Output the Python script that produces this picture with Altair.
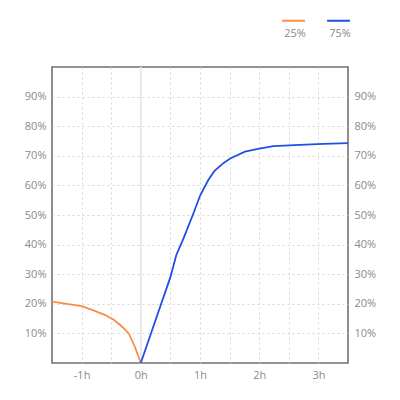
import pandas as pd
import altair as alt

# hours relative to event, share in percent
hours_25 = [-1.5, -1.25, -1.0, -0.8, -0.6, -0.45, -0.3, -0.2, -0.1, 0.0]
share_25 = [20.7, 20.0, 19.2, 17.8, 16.2, 14.5, 12.0, 9.8, 5.5, 0.0]

hours_75 = [0.0, 0.25, 0.5, 0.6, 0.72, 0.89, 1.0, 1.14, 1.25, 1.4, 1.51,
            1.76, 1.98, 2.24, 2.69, 3.08, 3.5]
share_75 = [0.0, 14.5, 29.0, 36.5, 42.0, 50.6, 56.5, 61.8, 65.0, 67.6, 69.1,
            71.4, 72.3, 73.3, 73.7, 74.0, 74.3]

series = ['25%', '75%']
colors = ['#fb8c47', '#1f4fe6']

x_ticks = [-1, -0.5, 0, 0.5, 1, 1.5, 2, 2.5, 3]
y_ticks = [10, 20, 30, 40, 50, 60, 70, 80, 90]

df = pd.concat([
    pd.DataFrame({'h': hours_25, 'v': share_25, 's': series[0]}),
    pd.DataFrame({'h': hours_75, 'v': share_75, 's': series[1]}),
])

font = 'Open Sans'
gray = '#8a8a8a'

x_enc = alt.X('h:Q', scale=alt.Scale(domain=[-1.5, 3.5], nice=False, zero=False),
              axis=alt.Axis(values=x_ticks, title=None, domain=False, ticks=False,
                            labelExpr="datum.value % 1 == 0 ? datum.value + 'h' : ''",
                            gridDash=[2, 3], gridColor='#d6d6d6', labelPadding=6))
y_scale = alt.Scale(domain=[0, 100], nice=False)

lines = alt.Chart(df).mark_line(strokeWidth=1.8).encode(
    x=x_enc,
    y=alt.Y('v:Q', scale=y_scale,
            axis=alt.Axis(values=y_ticks, title=None, domain=False, ticks=False,
                          labelExpr="datum.value + '%'", orient='left',
                          gridDash=[2, 3], gridColor='#d6d6d6', labelPadding=6)),
    color=alt.Color('s:N', scale=alt.Scale(domain=series, range=colors),
                    legend=alt.Legend(title=None, orient='none', direction='horizontal',
                                      legendX=229, legendY=-59, padding=0,
                                      symbolType='stroke', symbolSize=520,
                                      symbolStrokeWidth=2, labelAlign='center',
                                      labelBaseline='middle', labelOffset={'expr': '-11'},
                                      labelExpr="['', '', datum.label]",
                                      columnPadding=14, symbolOffset=0)),
)

right = alt.Chart(df).mark_line(opacity=0).encode(
    x=x_enc,
    y=alt.Y('v:Q', scale=y_scale,
            axis=alt.Axis(values=y_ticks, title=None, domain=False, ticks=False,
                          grid=False, labelExpr="datum.value + '%'", orient='right',
                          labelPadding=6)),
)

zero = alt.Chart(pd.DataFrame({'h': [0]})).mark_rule(color='#e8e8e8', strokeWidth=1.8).encode(
    x=x_enc
)

chart = alt.layer(zero, lines, right).resolve_axis(y='independent').properties(
    width=296, height=296,
    autosize=alt.AutoSizeParams(type='none'),
    padding={'left': 44, 'top': 59, 'right': 40, 'bottom': 30},
).configure_view(
    stroke='#707070', strokeWidth=1.6
).configure_axis(
    labelFont=font, labelFontSize=11, labelColor=gray
).configure_legend(
    labelFont=font, labelFontSize=11, labelColor=gray
)

chart.save("out.html", embed_options={"renderer": "svg", "actions": False})
